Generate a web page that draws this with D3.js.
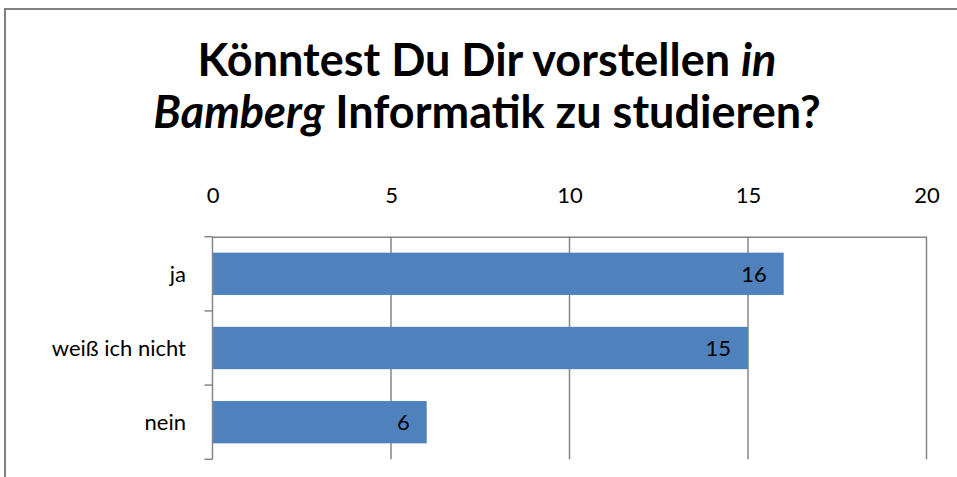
<!doctype html>
<html>
<head>
<meta charset="utf-8">
<script src="https://d3js.org/d3.v7.min.js"></script>
<style>
body { margin: 0; background: #fff; }
svg text { font-family: Lato, "Open Sans", sans-serif; fill: #000; }
</style>
</head>
<body>
<svg width="957" height="477" class="chart"></svg>
<script>
var categories = ["ja", "weiß ich nicht", "nein"];
var values = [16, 15, 6];
var xTicks = [0, 5, 10, 15, 20];

var svg = d3.select(".chart");
var gridColor = "#868686";
var labelSize = "22px";

// outer chart frame (only top and left edge visible)
svg.append("path")
  .attr("d", "M5,477 L5,9 L957,9")
  .style("fill", "none")
  .style("stroke", "#808080")
  .style("stroke-width", 2);

// title
var title = svg.append("text")
  .attr("text-anchor", "middle")
  .style("font-weight", "bold")
  .style("font-size", "45px");
var t1 = title.append("tspan").attr("x", 487).attr("y", 76);
t1.append("tspan").text("Könntest Du Dir vorstellen ");
t1.append("tspan").style("font-style", "italic").text("in");
var t2 = title.append("tspan").attr("x", 487).attr("y", 128);
t2.append("tspan").style("font-style", "italic").text("Bamberg");
t2.append("tspan").text(" Informatik zu studieren?");

// plot area
var pLeft = 212.5, pRight = 926.5, pTop = 236.7, pBottom = 459.3;

var x = d3.scaleLinear().domain([0, 20]).range([pLeft, pRight]);
var y = d3.scaleBand().domain(categories).range([pTop, pBottom])
  .paddingInner(0.43).paddingOuter(0.215);

// gridlines
svg.append("g").selectAll("line")
  .data(xTicks.slice(1))
  .join("line")
  .attr("x1", d => x(d)).attr("x2", d => x(d))
  .attr("y1", pTop).attr("y2", pBottom)
  .style("stroke", gridColor).style("stroke-width", 1.5);

// top axis
var xAxis = svg.append("g")
  .attr("transform", "translate(0," + pTop + ")")
  .call(d3.axisTop(x).tickValues(xTicks).tickSize(0).tickPadding(34));
xAxis.select(".domain").style("stroke", gridColor).style("stroke-width", 1.5);
xAxis.selectAll("text").style("font-size", labelSize).style("font-family", "Lato, sans-serif").style("fill", "#000");

// bars
svg.append("g").selectAll("rect")
  .data(values)
  .join("rect")
  .attr("x", x(0))
  .attr("y", (d, i) => y(categories[i]))
  .attr("width", d => x(d) - x(0))
  .attr("height", y.bandwidth())
  .style("fill", "#4F81BD");

// left axis
var band = y.step();
var yAxis = svg.append("g");
yAxis.append("line")
  .attr("x1", pLeft).attr("x2", pLeft).attr("y1", pTop).attr("y2", pBottom)
  .style("stroke", gridColor).style("stroke-width", 1.5);
yAxis.selectAll(".tk")
  .data(d3.range(categories.length + 1))
  .join("line")
  .attr("class", "tk")
  .attr("x1", pLeft - 8).attr("x2", pLeft)
  .attr("y1", i => pTop + i * band).attr("y2", i => pTop + i * band)
  .style("stroke", gridColor).style("stroke-width", 1.5);
yAxis.selectAll("text")
  .data(categories)
  .join("text")
  .attr("x", 186)
  .attr("y", d => y(d) + y.bandwidth() / 2)
  .attr("dy", "0.35em")
  .attr("text-anchor", "end")
  .style("font-size", labelSize)
  .text(d => d);

// value labels
svg.append("g").selectAll("text")
  .data(values)
  .join("text")
  .attr("x", d => x(d) - 17)
  .attr("y", (d, i) => y(categories[i]) + y.bandwidth() / 2)
  .attr("dy", "0.35em")
  .attr("text-anchor", "end")
  .style("font-size", labelSize)
  .text(d => d);
</script>
</body>
</html>
